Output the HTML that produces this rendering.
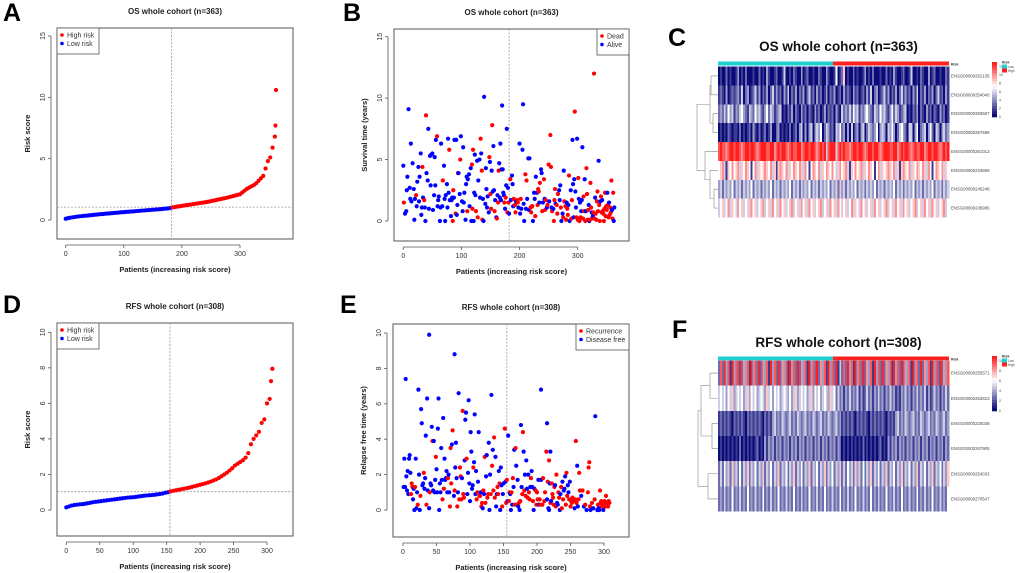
<!DOCTYPE html>
<html><head><meta charset="utf-8"><style>
body{margin:0;background:#fff}
svg{display:block;font-family:"Liberation Sans",Arial,sans-serif}
</style></head><body>
<svg id="fig" width="1020" height="573" viewBox="0 0 1020 573" xmlns="http://www.w3.org/2000/svg"></svg>
<script>
// ---------- DATA ----------
const riskA = [0.10,0.15,0.19,0.22,0.25,0.28,0.30,0.32,0.34,0.36,0.38,0.40,0.42,0.44,0.46,0.48,0.49,0.51,0.53,0.54,0.56,0.58,0.59,0.61,0.63,0.64,0.66,0.67,0.69,0.70,0.72,0.74,0.75,0.77,0.78,0.80,0.81,0.83,0.84,0.86,0.87,0.89,0.91,0.93,0.95,0.98,
1.03,1.06,1.09,1.12,1.15,1.18,1.21,1.24,1.27,1.30,1.33,1.36,1.39,1.42,1.45,1.48,1.52,1.56,1.60,1.64,1.68,1.72,1.76,1.80,1.85,1.90,1.95,2.00,
2.05,2.10,2.25,2.40,2.55,2.65,2.75,2.85,3.00,3.20,3.40,3.60,4.20,4.80,5.10,5.90,6.80];
const tailAX = [361,362];
const tailAY = [7.7,10.6];
const cutA = 182, hlineA = 1.05;

const riskD = [0.15,0.20,0.25,0.28,0.30,0.32,0.33,0.35,0.38,0.41,0.44,0.46,0.48,0.50,0.52,0.54,0.56,0.58,0.60,0.62,0.64,0.66,0.68,0.70,0.71,0.72,0.74,0.76,0.78,0.80,0.82,0.83,0.84,0.86,0.88,0.90,0.93,0.97,1.00,
1.05,1.08,1.11,1.14,1.17,1.20,1.23,1.26,1.30,1.34,1.38,1.42,1.46,1.50,1.55,1.60,1.66,1.72,1.80,1.90,2.00,2.10,2.22,2.35,2.50,2.60,2.70,2.80,2.95,3.20,3.70,4.00,4.20,4.40,4.90,5.10,6.00,6.25];
const tailDX = [306,308];
const tailDY = [7.25,7.95];
const cutD = 155, hlineD = 1.03;

const survB = "0 4.5 a;1 1.5 d;3 0.6 a;5 0.8 a;6 2.5 a;7 3.6 a;9 9.1 a;11 2.7 a;12 1.8 a;13 6.3 a;14 1.6 a;16 4.7 a;18 2.6 a;19 0.1 a;20 1.8 a;22 2.1 d;23 1.2 a;24 3.2 a;26 4.4 a;27 1.6 a;28 3.6 a;30 5.5 a;31 0.5 a;32 1.1 a;33 4.4 d;34 1.9 a;36 1.7 d;37 1.1 a;38 0.0 a;39 8.6 d;40 3.9 a;42 3.3 a;43 7.5 a;44 1.0 a;46 5.3 a;47 2.9 a;48 5.4 a;50 5.5 a;51 0.9 a;53 2.1 a;54 5.2 a;55 2.9 a;56 6.6 a;58 6.9 d;59 1.2 a;60 1.7 a;61 2.0 a;63 0.0 a;64 1.1 a;65 6.3 a;67 1.2 a;68 3.3 d;70 4.5 a;71 1.8 a;72 0.0 a;73 2.1 a;75 3.0 a;76 1.1 a;77 6.7 a;78 2.3 a;79 5.8 d;80 1.7 a;82 0.4 a;83 1.7 a;84 1.9 a;85 0.0 d;86 2.5 d;87 1.9 a;88 6.6 a;90 0.6 d;91 6.6 a;92 0.5 a;93 1.3 a;94 3.9 d;95 3.9 a;97 2.2 a;98 5.0 d;99 6.9 a;101 1.6 a;102 0.8 a;103 6.0 a;104 1.5 a;105 2.3 a;107 0.1 a;108 3.0 a;109 3.6 a;110 0.8 d;111 3.4 a;113 3.8 a;114 1.2 a;116 4.3 a;117 0.0 a;118 4.6 d;119 1.0 d;120 5.8 d;121 0.0 a;122 2.3 a;123 5.4 a;124 2.1 a;125 0.8 d;127 4.9 a;128 0.3 d;129 3.3 a;131 5.0 a;132 1.9 a;133 6.7 d;134 5.5 a;135 4.1 d;136 0.1 d;137 1.8 a;138 0.0 a;139 10.1 a;141 1.4 a;142 4.3 a;143 2.6 a;144 1.1 a;145 2.0 a;147 0.7 a;148 5.2 d;149 4.8 a;150 2.2 d;151 1.0 d;152 4.1 a;153 7.8 d;154 2.4 a;155 6.1 a;156 2.5 a;157 0.8 d;158 1.7 a;160 0.3 a;161 0.2 d;162 2.1 a;163 1.5 d;164 4.1 d;165 4.7 a;166 1.9 a;167 6.3 a;168 1.7 a;169 4.2 a;170 9.4 a;171 4.2 a;172 2.3 a;173 2.1 a;174 1.5 d;175 1.0 a;176 1.9 d;177 2.9 a;178 7.5 a;179 0.7 d;180 2.7 a;181 1.5 d;182 0.6 a;184 3.4 d;185 1.7 a;187 3.7 a;188 3.0 a;189 1.2 a;190 1.8 d;192 1.3 d;193 0.7 d;194 1.6 a;196 1.7 d;197 1.5 d;198 1.1 a;200 6.3 a;201 0.6 a;202 1.8 d;203 1.0 a;205 5.8 a;206 9.5 a;207 1.4 a;208 0.0 a;210 3.8 d;211 1.0 a;212 3.3 d;213 1.8 a;215 5.1 a;216 0.9 a;217 5.1 a;219 1.1 d;220 0.7 d;221 1.2 d;222 1.2 d;223 0.0 a;225 2.3 a;226 1.8 a;227 0.4 d;228 3.6 a;230 2.3 a;231 1.3 d;232 2.6 d;233 2.4 d;234 1.5 a;235 3.1 d;237 4.2 a;238 3.9 a;239 0.8 d;240 1.5 a;242 3.4 d;243 1.8 a;244 0.9 d;245 1.7 d;247 1.1 a;248 1.3 d;250 4.6 d;251 1.6 a;253 7.0 d;254 4.4 d;255 1.1 a;256 0.8 d;258 1.0 a;259 0.0 d;260 1.7 d;261 2.6 d;262 1.4 a;264 1.3 d;265 0.6 d;266 2.2 d;268 2.5 a;269 1.7 a;270 2.9 a;271 1.1 d;272 0.0 a;274 0.6 a;275 0.3 d;276 4.1 a;277 1.6 d;279 1.2 d;280 0.1 d;281 1.5 a;282 1.0 d;283 0.5 d;284 1.3 a;285 3.7 d;286 0.0 a;288 2.5 a;289 0.2 d;290 1.7 d;291 6.6 a;292 3.0 a;293 0.3 a;294 3.4 a;295 8.9 d;296 2.4 a;297 1.1 a;298 0.3 d;299 6.7 a;300 0.1 d;301 3.5 d;302 1.8 a;303 0.0 d;304 1.5 a;305 0.3 d;306 0.8 a;307 1.7 a;308 6.0 a;309 0.2 d;310 2.0 d;311 0.8 d;312 3.4 a;313 0.0 d;314 0.8 a;315 4.3 d;316 2.2 d;317 0.1 d;318 0.9 d;319 1.3 a;320 0.0 a;321 0.1 d;322 3.1 d;323 1.1 d;324 0.7 a;325 0.2 d;326 0.4 a;327 0.7 d;328 12.0 d;329 0.2 d;330 1.9 a;331 0.6 d;332 0.1 d;333 1.6 d;334 2.4 d;335 0.8 d;336 4.9 a;337 1.3 d;338 0.0 d;339 1.6 a;340 2.0 d;341 0.7 d;342 1.7 a;343 0.8 d;344 0.6 d;345 0.0 d;346 1.0 d;347 2.3 d;348 0.4 d;349 1.2 d;350 0.9 d;351 2.3 a;352 1.3 d;353 0.3 d;354 1.5 a;355 0.5 d;356 1.1 d;357 0.7 d;358 3.3 d;359 0.9 a;360 0.2 d;361 2.3 d;362 0.0 a;363 1.1 a";

const relapseE = "1 1.3 a;2 2.9 a;3 1.3 a;4 7.4 a;5 1.9 a;6 1.1 a;7 2.2 a;8 0.9 a;9 2.9 a;10 3.1 a;11 2.1 a;12 0.9 d;13 1.5 d;14 1.3 d;15 0.6 a;16 1.2 a;17 0.0 a;18 1.3 d;19 2.9 a;20 0.1 a;21 1.0 a;22 0.3 d;23 6.8 a;24 2.0 a;25 0.0 a;26 0.8 d;27 5.7 a;28 4.9 a;29 1.4 a;30 1.5 a;31 2.1 d;32 1.2 a;33 1.8 a;34 4.2 a;35 0.3 d;36 6.3 a;37 1.1 a;39 9.9 a;39 0.1 a;40 1.0 d;41 1.5 a;42 1.4 a;43 4.7 a;44 3.9 d;45 1.1 a;46 3.9 a;47 1.0 a;48 1.7 a;49 3.0 d;50 2.3 a;51 1.0 a;52 4.6 a;53 6.3 a;54 0.0 a;55 1.5 a;56 1.0 a;57 3.5 a;58 1.7 a;59 0.6 d;60 5.2 a;61 1.2 d;62 2.9 a;63 1.7 a;64 1.8 a;65 2.2 a;66 1.0 a;67 1.8 d;68 2.0 a;69 1.0 a;70 0.2 d;71 3.5 d;72 1.5 d;73 3.7 a;74 4.5 d;77 8.8 a;76 0.8 a;77 1.1 d;78 2.4 a;79 3.8 a;80 1.8 a;81 0.2 d;82 1.0 a;83 6.6 a;84 0.6 d;85 2.4 d;86 1.9 d;87 0.6 d;88 1.8 a;89 5.6 d;90 0.9 d;91 0.7 d;92 2.8 a;93 5.1 a;94 5.5 a;95 2.9 d;96 0.9 a;97 2.1 a;98 6.2 a;99 1.5 a;100 0.5 a;101 4.4 a;102 3.3 a;103 1.2 a;104 1.4 a;105 2.4 d;106 2.7 a;107 5.4 a;108 0.9 a;109 2.2 a;110 0.6 d;111 1.0 d;112 1.6 a;113 4.4 a;114 0.8 d;115 0.8 d;116 1.0 a;117 0.2 d;118 0.4 d;119 0.1 a;120 1.1 d;121 0.9 a;122 3.0 d;123 0.4 d;124 1.9 a;125 3.1 a;126 0.7 d;127 0.9 d;128 3.8 a;129 0.0 a;130 2.0 a;131 0.9 d;132 6.5 a;133 2.5 d;134 3.4 a;135 1.1 d;136 4.1 d;137 0.7 d;138 3.0 a;139 0.2 a;140 0.9 a;141 1.3 d;142 0.9 d;143 2.2 a;144 1.5 d;145 0.0 a;146 2.4 a;147 1.4 a;148 0.2 d;149 0.9 a;150 1.5 a;152 4.6 d;153 1.6 a;154 0.4 d;155 1.7 d;156 0.5 a;157 4.2 a;158 0.5 d;159 1.0 d;160 0.9 a;161 0.0 a;162 1.0 d;163 0.3 a;164 1.8 d;165 1.3 a;166 3.4 a;167 0.3 d;168 3.5 d;169 2.5 a;170 0.3 d;171 1.7 a;172 0.2 a;173 0.4 d;174 0.0 a;175 0.5 d;176 4.8 a;177 1.3 a;178 0.9 d;179 4.4 d;180 3.3 a;181 1.1 d;182 2.0 a;183 0.8 d;184 2.8 a;185 1.2 a;186 0.7 d;187 2.0 a;188 1.0 d;189 0.6 d;190 1.3 a;191 1.8 d;192 2.2 a;193 1.3 a;194 0.5 d;195 0.0 a;196 1.2 a;206 6.8 a;198 1.1 d;199 0.3 d;200 1.0 d;201 0.6 d;202 1.7 a;203 0.3 a;204 0.6 d;205 0.3 d;206 1.7 a;214 3.3 d;208 0.3 d;209 1.8 d;215 4.9 a;211 0.5 d;212 1.0 d;218 2.8 d;220 3.3 a;215 0.6 a;216 1.6 d;217 0.1 a;218 0.0 a;219 1.5 a;220 0.4 d;221 0.5 a;222 1.5 d;223 0.9 d;224 0.7 d;225 0.3 d;226 1.3 d;227 1.4 a;228 0.2 d;229 2.0 d;230 0.4 a;231 0.3 a;232 1.0 d;233 0.7 d;234 0.0 a;235 0.9 a;236 1.3 d;237 0.1 d;238 1.6 a;239 0.6 d;240 1.1 a;241 1.2 a;242 1.9 a;243 0.3 d;244 2.1 d;245 0.8 d;246 1.4 a;247 1.0 a;248 0.6 d;249 1.6 a;250 0.2 d;251 0.5 d;252 0.4 d;253 0.7 d;258 3.9 d;255 0.5 d;256 0.1 a;257 0.6 d;259 0.4 d;260 2.5 a;261 0.2 a;262 0.6 d;263 2.1 d;264 1.1 d;266 0.8 a;268 1.1 d;270 0.2 a;272 0.3 d;274 0.0 a;276 1.0 d;277 2.4 d;278 2.7 d;279 0.2 d;280 0.0 a;282 0.4 d;284 0.1 a;286 0.6 d;287 5.3 a;289 9.4 a;290 0.0 a;291 0.3 d;292 0.1 a;293 0.0 a;294 1.1 d;295 0.4 d;296 0.5 d;297 0.2 d;298 0.3 d;299 0.0 a;300 0.4 d;301 0.5 d;302 0.2 d;303 0.8 d;304 0.3 d;305 0.4 d;306 0.2 d;307 0.5 d;308 0.4 d";

const heatC = [
"010020100130102000100201031001200140010210030120010021003100150126010020100130102000100201031001200140010210030120010021",
"121030121231402301241302130241312031402130213024120312013021301203121031201203140230124130213024131203140213021302412031",
"232425341324532143253421352431234010213021031202103120130212031042324253413245321432534213524312340102130210312021031201",
"010102101102010120310201201300230101020120340303403435024312043523030402303402432350343043530245320440350234035204303423",
"898878998998789989987899988997898998789889978998998789894899948989887899899878998998789998899789899878988997899899878989",
"567416575674657651574656765746167657465765764751576574657657546756741657567465765157465676574616765746576576475157657465",
"342434352434243435243424343524342434352434243435243424343524342634243435243424343524342434352434243435243424343524342434",
"456457465475645647564567456475647564567456475647564567456475647545645746547564564756456745647564756456745647564756456745"];
const genesC = ["ENSG00000262135","ENSG00000254040","ENSG00000250587","ENSG00000267586","ENSG00000261012","ENSG00000234899","ENSG00000245248","ENSG00000245985"];
const heatF = [
"282938193829273819382927381938292738193829273819382927381938291428293819382927381938292738193829273819382927381938292738",
"454535463454534635453454364535453454353463454534635453454364524231324232413124231324231324231213242313242324131242313242",
"121212102121210212121210212134232432342324323423243234232432342312121210212121021212121021213423243234232432342324323423",
"010101010102010101012010313231323132313231323132313231323132313201010101010201010101201031323132313231323132313231323132",
"242534263425243624352436243524362435243624352436243524362435243624253426342524362435243624352436243524362435243624352436",
"232423252324232523242325232423252324232523242325232423252324232523242325232423252324232523242325232423252324232523242325"];
const genesF = ["ENSG00000255571","ENSG00000262823","ENSG00000225038","ENSG00000267905","ENSG00000254033","ENSG00000270547"];

const tickX3 = [0,100,200,300];
const tickX6 = [0,50,100,150,200,250,300];
const tickY15 = [0,5,10,15];
const tickY10 = [0,2,4,6,8,10];

// ---------- HELPERS ----------
const NS="http://www.w3.org/2000/svg";
const svg=document.getElementById('fig');
function mk(tag,attrs,parent,text){const e=document.createElementNS(NS,tag);for(const k in attrs)e.setAttribute(k,attrs[k]);if(text!==undefined)e.textContent=text;(parent||svg).appendChild(e);return e;}
const RED="#ff0000",BLUE="#0000ff";

function parsePts(s){const xs=[],ys=[],st=[];s.split(';').forEach(t=>{const p=t.trim().split(' ');xs.push(+p[0]);ys.push(+p[1]);st.push(p[2]);});return {xs,ys,st};}

function panel(o){
  const g=mk('g',{});
  
  
  const sx=v=>o.x0+(v-o.xa)*o.xk, sy=v=>o.y0-(v)*o.yk;
  const t=mk('text',{x:(o.bx1+o.bx2)/2,y:o.by1-14,'text-anchor':'middle','font-size':8,'font-weight':'bold',fill:'#222'},g,o.title);
  
  mk('rect',{x:o.bx1,y:o.by1,width:o.bx2-o.bx1,height:o.by2-o.by1,fill:'none',stroke:'#555','stroke-width':1},g);
  const ax=mk('g',{},g);
  const axY=o.by2+6;
  mk('line',{x1:sx(o.xt[0]),x2:sx(o.xt[o.xt.length-1]),y1:axY,y2:axY,stroke:'#555','stroke-width':0.8},ax);
  o.xt.forEach(v=>{mk('line',{x1:sx(v),x2:sx(v),y1:axY,y2:axY+3,stroke:'#555','stroke-width':0.8},ax);
    mk('text',{x:sx(v),y:axY+11,'text-anchor':'middle','font-size':7,fill:'#333'},ax,String(v));});
  const xl=mk('text',{x:(o.bx1+o.bx2)/2,y:o.by2+33,'text-anchor':'middle','font-size':7.5,'font-weight':'bold',fill:'#222'},g,'Patients (increasing risk score)');
  
  const ay=mk('g',{},g);
  const axX=o.bx1-6;
  mk('line',{x1:axX,x2:axX,y1:sy(o.yt[0]),y2:sy(o.yt[o.yt.length-1]),stroke:'#555','stroke-width':0.8},ay);
  o.yt.forEach(v=>{mk('line',{x1:axX-3,x2:axX,y1:sy(v),y2:sy(v),stroke:'#555','stroke-width':0.8},ay);
    mk('text',{x:axX-6,y:sy(v),'text-anchor':'middle','font-size':7,fill:'#333',transform:`rotate(-90 ${axX-6} ${sy(v)})`},ay,String(v));});
  const yl=mk('text',{x:o.bx1-27,y:(o.by1+o.by2)/2,'text-anchor':'middle','font-size':7.5,'font-weight':'bold',fill:'#222',transform:`rotate(-90 ${o.bx1-27} ${(o.by1+o.by2)/2})`},g,o.ytitle);
  
  mk('line',{x1:sx(o.cut),x2:sx(o.cut),y1:o.by1,y2:o.by2,stroke:'#999','stroke-width':0.8,'stroke-dasharray':'2,1.5'},g);
  if(o.hline!==undefined) mk('line',{x1:o.bx1,x2:o.bx2,y1:sy(o.hline),y2:sy(o.hline),stroke:'#999','stroke-width':0.8,'stroke-dasharray':'2,1.5'},g);
  const pg=mk('g',{},g);
  for(let i=0;i<o.px.length;i++){
    const c=mk('circle',{cx:sx(o.px[i]),cy:sy(o.py[i]),r:o.r||2.1,fill:o.pc[i]},pg);
    
    
  }
  const lg=mk('g',{},g);
  const lw=o.legW, lx=o.legRight?o.bx2-lw:o.bx1;
  mk('rect',{x:lx,y:o.by1,width:lw,height:26,fill:'#fff',stroke:'#555','stroke-width':0.8},lg);
  o.leg.forEach((L,i)=>{
    mk('circle',{cx:lx+5,cy:o.by1+7+i*8.5,r:1.8,fill:L[1]},lg);
    const e=mk('text',{x:lx+10,y:o.by1+9.5+i*8.5,'font-size':7,fill:'#333'},lg,L[0]);
    
  });
}
function letter(ch,x,y){const e=mk('text',{x:x,y:y,'font-size':25,'font-weight':'bold',fill:'#000'},svg,ch);}

(function(){
  const px=[],py=[],pc=[];
  riskA.forEach((v,i)=>{px.push(i*4);py.push(v);pc.push(i*4<cutA?BLUE:RED);});
  tailAX.forEach((x,i)=>{px.push(x);py.push(tailAY[i]);pc.push(RED);});
  panel({name:'panel-a-os-risk-score',title:'OS whole cohort (n=363)',bx1:57,bx2:293,by1:28,by2:239,x0:65.7,xa:0,xk:174.3/300,y0:220,yk:184/15,
    xt:tickX3,yt:tickY15,ytitle:'Risk score',cut:cutA,hline:hlineA,px,py,pc,legW:42,legRight:false,leg:[['High risk',RED],['Low risk',BLUE]]});
})();
(function(){
  const d=parsePts(survB);
  panel({name:'panel-b-os-survival',title:'OS whole cohort (n=363)',bx1:394,bx2:629,by1:29,by2:241,x0:403.3,xa:0,xk:174.4/300,y0:221,yk:184.3/15,
    xt:tickX3,yt:tickY15,ytitle:'Survival time (years)',cut:cutA,px:d.xs,py:d.ys,pc:d.st.map(s=>s==='d'?RED:BLUE),legW:32,legRight:true,leg:[['Dead',RED],['Alive',BLUE]]});
})();
(function(){
  const px=[],py=[],pc=[];
  riskD.forEach((v,i)=>{px.push(i*4);py.push(v);pc.push(i*4<cutD?BLUE:RED);});
  tailDX.forEach((x,i)=>{px.push(x);py.push(tailDY[i]);pc.push(RED);});
  panel({name:'panel-d-rfs-risk-score',title:'RFS whole cohort (n=308)',bx1:57,bx2:293,by1:323,by2:536,x0:66.3,xa:0,xk:200.7/300,y0:510,yk:17.77,
    xt:tickX6,yt:tickY10,ytitle:'Risk score',cut:cutD,hline:hlineD,px,py,pc,legW:42,legRight:false,leg:[['High risk',RED],['Low risk',BLUE]]});
})();
(function(){
  const d=parsePts(relapseE);
  panel({name:'panel-e-rfs-relapse',title:'RFS whole cohort (n=308)',bx1:393,bx2:629,by1:324,by2:537,x0:403,xa:0,xk:201/300,y0:510,yk:17.7,
    xt:tickX6,yt:tickY10,ytitle:'Relapse free time (years)',cut:cutD,px:d.xs,py:d.ys,pc:d.st.map(s=>s==='d'?RED:BLUE),legW:53,legRight:true,leg:[['Recurrence',RED],['Disease free',BLUE]]});
})();

// ---------- HEATMAPS ----------
function lerp(a,b,t){return Math.round(a+(b-a)*t);}
function colorOf(d){
  if(d<=5){const t=d/5;return `rgb(${lerp(10,255,t)},${lerp(10,255,t)},${lerp(120,255,t)})`;}
  const t=(d-5)/4;return `rgb(255,${lerp(255,30,t)},${lerp(255,30,t)})`;
}
function heatmap(o){
  const g=mk('g',{});
  const t=mk('text',{x:o.x1+(o.x2-o.x1)/2+5,y:o.titleY,'text-anchor':'middle','font-size':13.5,'font-weight':'bold',fill:'#111'},g,o.title);
  
  const ann=mk('g',{},g);
  mk('rect',{x:o.x1,y:o.annY,width:o.split-o.x1,height:o.annH,fill:'#1fd0d0'},ann);
  mk('rect',{x:o.split,y:o.annY,width:o.x2-o.split,height:o.annH,fill:'#ff2020'},ann);
  mk('text',{x:o.x2+2,y:o.annY+o.annH,'font-size':3.5,'font-weight':'bold',fill:'#333'},ann,'Risk');
  const rows=o.data.length, rh=(o.y2-o.y1)/rows;
  const cells=mk('g',{'shape-rendering':'crispEdges'},g);
  o.data.forEach((row,r)=>{
    const n=row.length, cw=(o.x2-o.x1)/n;
    for(let c=0;c<n;c++){
      const rc=mk('rect',{x:o.x1+c*cw,y:o.y1+r*rh,width:cw+0.3,height:rh+0.2,fill:colorOf(+row[c])},cells);
      
      
    }
    const l=mk('text',{x:o.x2+2,y:o.y1+r*rh+rh/2+1.5,'font-size':4.3,fill:'#444'},g,o.genes[r]);
    
  });
  const dg=mk('g',{fill:'none',stroke:'#888','stroke-width':0.6},g);
  const cy=i=>o.y1+rh*(i+0.5);
  o.dendro.forEach(s=>{mk('path',{d:s(cy,o.x1)},dg);});
  const cs=mk('g',{},g);
  const steps=20, lh=(o.legY2-o.legY1)/steps;
  for(let i=0;i<steps;i++) mk('rect',{x:o.legX,y:o.legY1+i*lh,width:5,height:lh+0.3,fill:colorOf(9-i*9/(steps-1))},cs);
  o.legTicks.forEach((v,i)=>{mk('text',{x:o.legX+7,y:o.legY2-(o.legY2-o.legY1)*(v/o.legMax)+1.2,'font-size':3.5,fill:'#444'},cs,String(v));});
  const rl=mk('g',{},g);
  mk('text',{x:o.legX+10,y:o.legY1+1.5,'font-size':3.5,'font-weight':'bold',fill:'#333'},rl,'Risk');
  mk('rect',{x:o.legX+10,y:o.legY1+2.5,width:5,height:4,fill:'#1fd0d0'},rl);
  mk('rect',{x:o.legX+10,y:o.legY1+6.5,width:5,height:4,fill:'#ff2020'},rl);
  mk('text',{x:o.legX+16,y:o.legY1+5.8,'font-size':3.2,fill:'#444'},rl,'Low');
  mk('text',{x:o.legX+16,y:o.legY1+9.8,'font-size':3.2,fill:'#444'},rl,'High');
}
const dendroC=[
  (cy,x)=>`M${x} ${cy(0)}H${x-7}V${cy(1)}H${x}`,
  (cy,x)=>`M${x} ${cy(2)}H${x-5}V${cy(3)}H${x}`,
  (cy,x)=>`M${x-5} ${(cy(2)+cy(3))/2}H${x-8}V${(cy(0)+cy(1))/2}H${x-7}`,
  (cy,x)=>`M${x} ${cy(6)}H${x-4}V${cy(7)}H${x}`,
  (cy,x)=>`M${x} ${cy(5)}H${x-8}V${(cy(6)+cy(7))/2}H${x-4}`,
  (cy,x)=>`M${x} ${cy(4)}H${x-13}V${(cy(5)+cy(6))/2}H${x-8}`,
  (cy,x)=>`M${x-8} ${(cy(0)+cy(3))/2}H${x-21}V${(cy(4)+cy(6))/2}H${x-13}`];
const dendroF=[
  (cy,x)=>`M${x} ${cy(0)}H${x-8}V${cy(1)}H${x}`,
  (cy,x)=>`M${x} ${cy(2)}H${x-6}V${cy(3)}H${x}`,
  (cy,x)=>`M${x-8} ${(cy(0)+cy(1))/2}H${x-17}V${(cy(2)+cy(3))/2}H${x-6}`,
  (cy,x)=>`M${x} ${cy(4)}H${x-10}V${cy(5)}H${x}`,
  (cy,x)=>`M${x-17} ${(cy(0)+cy(3))/2}H${x-20}V${(cy(4)+cy(5))/2}H${x-10}`];
heatmap({name:'panel-c-os-heatmap',title:'OS whole cohort (n=363)',titleY:51,x1:718,x2:949,split:833,annY:61.5,annH:4,y1:66.5,y2:217.5,data:heatC,genes:genesC,dendro:dendroC,legX:992,legY1:62,legY2:117,legTicks:[0,2,4,6,8,10,12],legMax:13});
heatmap({name:'panel-f-rfs-heatmap',title:'RFS whole cohort (n=308)',titleY:347,x1:718,x2:949,split:833,annY:356.5,annH:3.8,y1:360.5,y2:511.5,data:heatF,genes:genesF,dendro:dendroF,legX:992,legY1:356,legY2:411,legTicks:[0,2,4,6,8,10],legMax:11});

letter('A',3,21);letter('B',343,21);letter('C',668,46);
letter('D',3,313);letter('E',340,313);letter('F',672,338);
</script>
</body></html>
